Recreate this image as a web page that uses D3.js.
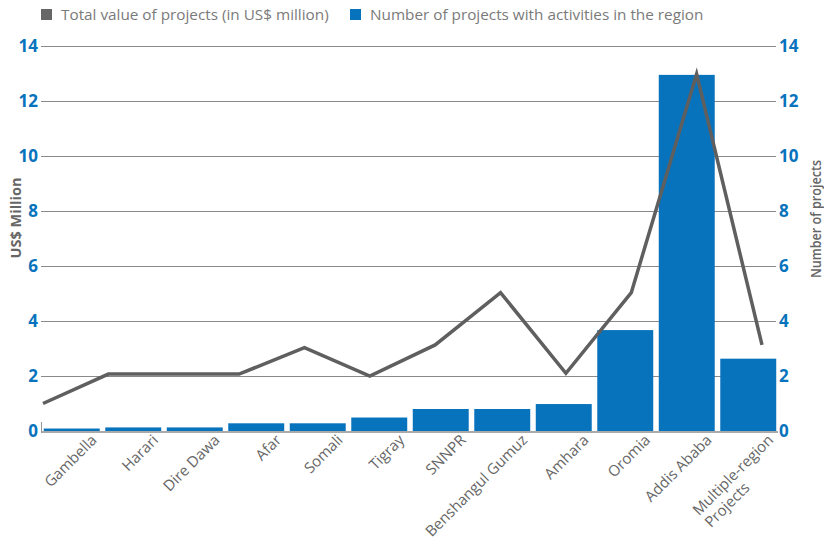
<!DOCTYPE html>
<html>
<head>
<meta charset="utf-8">
<script src="https://cdn.jsdelivr.net/npm/d3@7"></script>
<style>
  html, body { margin: 0; padding: 0; background: #fff; }
  svg { display: block; }
  text { font-family: "Open Sans", "Noto Sans", sans-serif; }
</style>
</head>
<body>
<svg id="chart" width="824" height="540"></svg>
<script>
const categories = ["Gambella", "Harari", "Dire Dawa", "Afar", "Somali", "Tigray", "SNNPR",
  "Benshangul Gumuz", "Amhara", "Oromia", "Addis Ababa", "Multiple-region\nProjects"];
const totalValue = [1.0, 2.07, 2.07, 2.07, 3.03, 2.0, 3.13, 5.03, 2.1, 5.03, 12.98, 3.13];
const projectCount = [0.09, 0.13, 0.13, 0.28, 0.28, 0.49, 0.8, 0.8, 0.98, 3.67, 12.95, 2.63];
const tickValues = [0, 2, 4, 6, 8, 10, 12, 14];
const legendLabels = ["Total value of projects (in US$ million)", "Number of projects with activities in the region"];

const svg = d3.select("#chart");
const blue = "#0773bd", gray = "#666666";

const y = d3.scaleLinear().domain([0, 14]).range([431, 46]);
const x = d3.scaleBand().domain(categories).range([41, 779]).paddingInner(0.09).paddingOuter(0.045);
const xp = d3.scalePoint().domain(categories).range([43, 762]);

// gridlines
svg.append("g").selectAll("line").data(tickValues.filter(d => d > 0)).join("line")
  .attr("x1", 41).attr("x2", 776)
  .attr("y1", d => Math.round(y(d)) + 0.5).attr("y2", d => Math.round(y(d)) + 0.5)
  .attr("stroke", "#8a8a8a").attr("stroke-width", 1);

// bars
svg.append("g").selectAll("rect").data(categories).join("rect")
  .attr("x", d => x(d)).attr("width", x.bandwidth())
  .attr("y", (d, i) => y(projectCount[i]))
  .attr("height", (d, i) => y(0) - y(projectCount[i]))
  .attr("fill", blue);

// baseline
svg.append("line").attr("x1", 41).attr("x2", 778).attr("y1", y(0) + 1).attr("y2", y(0) + 1)
  .attr("stroke", "#aaaaaa").attr("stroke-width", 2);
svg.append("line").attr("x1", 41.5).attr("x2", 41.5).attr("y1", y(0) - 9).attr("y2", y(0) + 2)
  .attr("stroke", "#999").attr("stroke-width", 1);

// line
svg.append("path").datum(categories)
  .attr("d", d3.line().x(d => xp(d)).y((d, i) => y(totalValue[i])))
  .attr("fill", "none").attr("stroke", "#5f5f5f").attr("stroke-width", 3.5)
  .attr("stroke-linejoin", "miter");

// left axis labels
const leftAxis = d3.axisLeft(y).tickValues(tickValues).tickSize(0).tickPadding(4).tickFormat(d3.format("d"));
const gl = svg.append("g").attr("transform", "translate(38,0)").call(leftAxis);
gl.select(".domain").remove();
gl.selectAll("text").attr("font-family", "'Open Sans', sans-serif").attr("font-size", 17)
  .attr("font-weight", 700).attr("fill", blue).attr("x", 0);

const rightAxis = d3.axisRight(y).tickValues(tickValues).tickSize(0).tickPadding(0).tickFormat(d3.format("d"));
const gr = svg.append("g").attr("transform", "translate(779,0)").call(rightAxis);
gr.select(".domain").remove();
gr.selectAll("text").attr("font-family", "'Open Sans', sans-serif").attr("font-size", 17)
  .attr("font-weight", 700).attr("fill", blue).attr("x", 0);

// axis titles
svg.append("text").attr("transform", "translate(21,218) rotate(-90)")
  .attr("text-anchor", "middle").attr("font-size", 14.5).attr("font-weight", 700)
  .attr("fill", gray).text("US$ Million");
svg.append("text").attr("transform", "translate(821,219) rotate(-90)")
  .attr("text-anchor", "middle").attr("font-size", 13.5).attr("font-weight", 600)
  .attr("fill", gray).attr("textLength", 118).attr("lengthAdjust", "spacingAndGlyphs")
  .text("Number of projects");

// x labels
const xl = svg.append("g").selectAll("g").data(categories).join("g")
  .attr("transform", d => `translate(${x(d) + x.bandwidth() / 2 + 26},441) rotate(-45)`);
xl.each(function(d) {
  const g = d3.select(this);
  const lines = d.split("\n");
  const t1 = g.append("text").attr("text-anchor", "end").attr("font-size", 15)
    .attr("fill", gray).text(lines[0]);
  if (lines.length > 1) {
    const w = t1.node().getComputedTextLength();
    g.append("text").attr("text-anchor", "start").attr("x", -w).attr("y", 17)
      .attr("font-size", 15).attr("fill", gray).text(lines[1]);
  }
});

// legend
const legendColors = ["#666666", blue];
const legendX = [41, 350];
legendLabels.forEach((l, i) => {
  svg.append("rect").attr("x", legendX[i]).attr("y", 9).attr("width", 11).attr("height", 11)
    .attr("fill", legendColors[i]);
  svg.append("text").attr("x", legendX[i] + 20).attr("y", 19.5).attr("font-size", 15.3)
    .attr("fill", "#7a7a7a").text(l);
});
</script>
</body>
</html>
